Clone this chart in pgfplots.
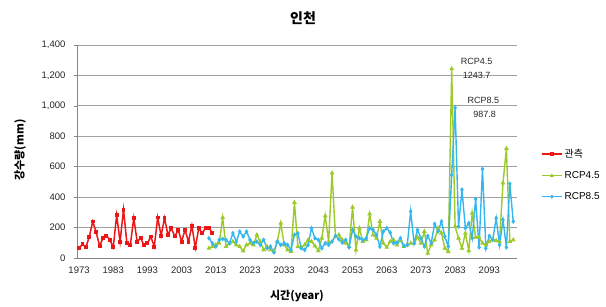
\documentclass[border=0pt]{standalone}
\usepackage{fontspec}
\setmainfont{Liberation Sans}
\newfontfamily\kr{Noto Sans CJK KR}
\usepackage{pgfplots}
\pgfplotsset{compat=1.18}
\definecolor{obsred}{RGB}{236,22,22}
\definecolor{rcpfour}{RGB}{156,202,42}
\definecolor{rcpeight}{RGB}{52,182,240}
\definecolor{gridgray}{RGB}{160,160,160}
\definecolor{axgray}{RGB}{134,134,134}
\pgfplotstableread{
x y
1973 64
1974 90
1975 70
1976 140
1977 240
1978 170
1979 80
1980 130
1981 147
1982 119
1983 70
1984 280
1985 108
1986 317
1987 97
1988 86
1989 262
1990 108
1991 130
1992 86
1993 97
1994 141
1995 75
1996 266
1997 147
1998 262
1999 152
2000 196
2001 141
2002 185
2003 108
2004 185
2005 108
2006 213
2007 68
2008 196
2009 163
2010 196
2011 200
2012 163
}\obs
\pgfplotstableread{
x y
2011 64
2012 75
2013 86
2014 97
2015 266
2016 75
2017 97
2018 108
2019 86
2020 75
2021 46
2022 86
2023 97
2024 86
2025 152
2026 108
2027 53
2028 75
2029 53
2030 46
2031 108
2032 229
2033 86
2034 53
2035 42
2036 365
2037 75
2038 70
2039 86
2040 119
2041 108
2042 79
2043 48
2044 130
2045 277
2046 108
2047 559
2048 141
2049 152
2050 119
2051 97
2052 75
2053 334
2054 53
2055 196
2056 108
2057 119
2058 290
2059 152
2060 130
2061 240
2062 97
2063 70
2064 108
2065 119
2066 86
2067 119
2068 75
2069 86
2070 97
2071 97
2072 136
2073 97
2074 174
2075 31
2076 86
2077 119
2078 196
2079 163
2080 64
2081 42
2082 1243.7
2083 207
2084 130
2085 64
2086 163
2087 48
2088 295
2089 136
2090 136
2091 97
2092 86
2093 108
2094 123
2095 114
2096 108
2097 493
2098 720
2099 108
2100 119
}\rcpA
\pgfplotstableread{
x y
2011 130
2012 97
2013 75
2014 119
2015 125
2016 119
2017 97
2018 163
2019 108
2020 174
2021 141
2022 174
2023 119
2024 97
2025 108
2026 86
2027 119
2028 64
2029 75
2030 37
2031 108
2032 86
2033 97
2034 86
2035 53
2036 152
2037 163
2038 64
2039 53
2040 86
2041 196
2042 130
2043 119
2044 64
2045 97
2046 86
2047 108
2048 145
2049 123
2050 101
2051 119
2052 70
2053 185
2054 141
2055 130
2056 119
2057 130
2058 196
2059 185
2060 152
2061 75
2062 174
2063 196
2064 167
2065 97
2066 101
2067 130
2068 79
2069 86
2070 306
2071 97
2072 185
2073 130
2074 75
2075 145
2076 97
2077 224
2078 174
2079 240
2080 141
2081 75
2082 546
2083 987.8
2084 207
2085 449
2086 196
2087 229
2088 130
2089 387
2090 70
2091 585
2092 64
2093 145
2094 119
2095 262
2096 86
2097 251
2098 70
2099 488
2100 240
}\rcpB
\begin{document}
\begin{tikzpicture}
\path[use as bounding box] (0pt,0pt) rectangle (606pt,307pt);
\begin{axis}[
  at={(77pt,49pt)}, anchor=south west,
  scale only axis, width=440pt, height=213pt,
  xmin=1972.4, xmax=2101.1, ymin=0, ymax=1400,
  ytick={0,200,...,1400},
  xtick={1973,1983,...,2093},
  axis lines*=left,
  axis line style={-, draw=axgray, line width=0.8pt},
  ymajorgrids, major grid style={draw=gridgray, line width=0.8pt},
  tick style={draw=axgray, line width=0.6pt},
  major tick length=3pt, tick align=outside,
  xtick style={draw=none},
  ticklabel style={font=\fontsize{9.5}{11}\selectfont, text=black!85},
  /pgf/number format/assume math mode=true,
  y tick label style={/pgf/number format/1000 sep={,}, xshift=-5pt},
  x tick label style={/pgf/number format/1000 sep={}, yshift=-2pt},
  clip=false,
  legend style={at={(1.055,0.52)}, anchor=north west, draw=none, fill=none,
    font=\fontsize{10}{12}\selectfont, row sep=8.5pt, inner sep=0pt, outer sep=0pt,
    /tikz/every even column/.append style={column sep=1pt}},
  legend cell align=left,
  legend image code/.code={
    \draw[#1, line width=1.4pt, mark=none] (0pt,0pt) -- (20pt,0pt);
    \draw[#1, line width=1pt] plot coordinates {(10pt,0pt)};},
]
\addplot[color=obsred, line width=1.5pt, mark=square*, mark size=1.2pt] table[x=x,y=y]{\obs};
\addlegendentry{\kr 관측}
\addplot[color=rcpfour, line width=1.4pt, mark=triangle*, mark size=1.4pt] table[x=x,y=y]{\rcpA};
\addlegendentry{RCP4.5}
\addplot[color=rcpeight, line width=1.4pt, mark=diamond*, mark size=1.3pt] table[x=x,y=y]{\rcpB};
\addlegendentry{RCP8.5}
\node[font=\fontsize{9}{10}\selectfont, text=black!85] at (axis cs:2089.3,1289) {RCP4.5};
\node[font=\fontsize{9}{10}\selectfont, text=black!85] at (axis cs:2089.3,1197) {1243.7};
\node[font=\fontsize{9}{10}\selectfont, text=black!85] at (axis cs:2091.3,1039) {RCP8.5};
\node[font=\fontsize{9}{10}\selectfont, text=black!85] at (axis cs:2091.6,947) {987.8};
\end{axis}
\node[font=\kr\bfseries\fontsize{14}{16}\selectfont] at (303pt,289pt) {인천};
\node[font=\kr\bfseries\fontsize{11}{13}\selectfont] at (297pt,11pt) {시간(year)};
\node[font=\kr\bfseries\fontsize{11}{13}\selectfont, rotate=90] at (20pt,157pt) {강수량(mm)};
\end{tikzpicture}
\end{document}
